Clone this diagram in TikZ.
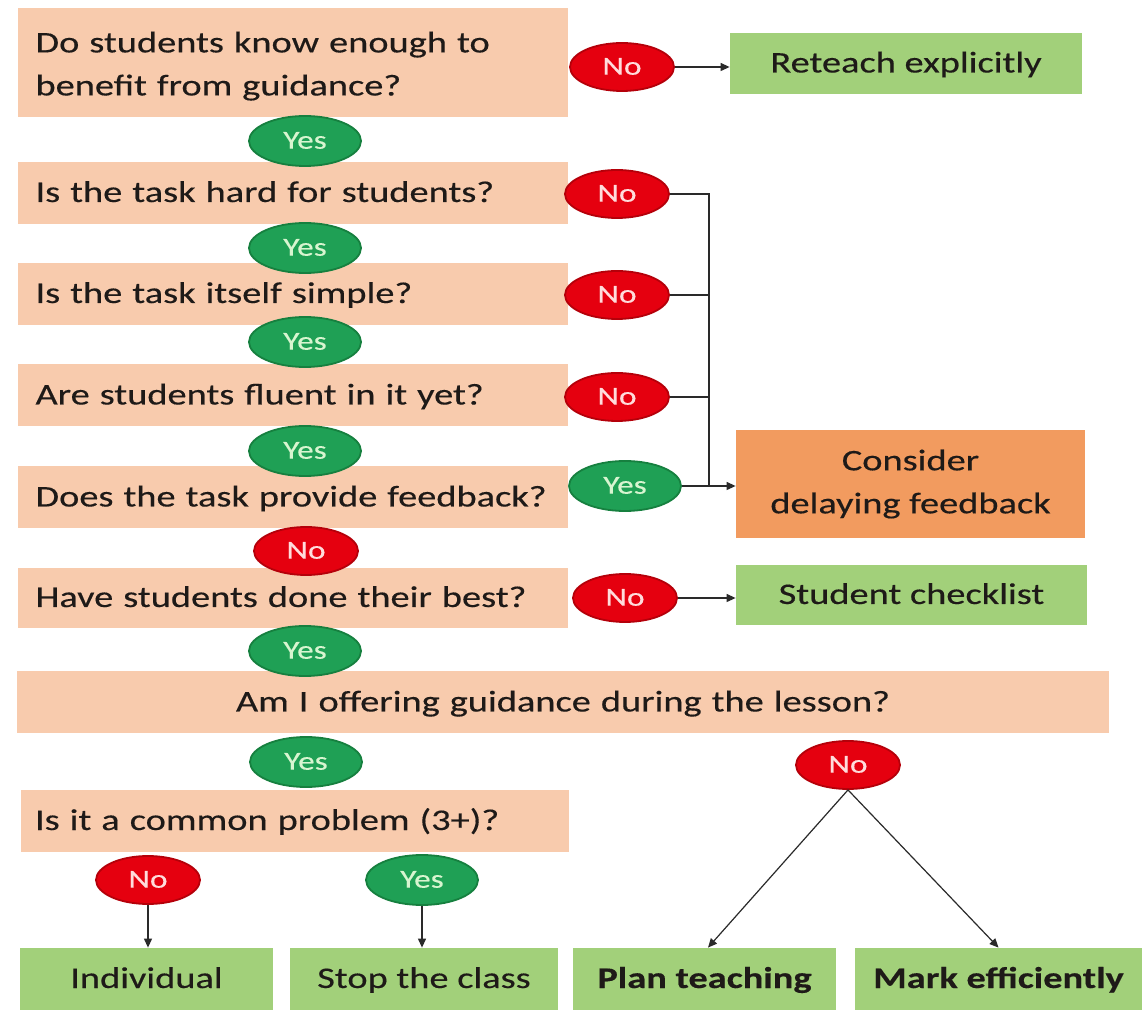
\documentclass[tikz,border=0pt]{standalone}
\usepackage{fontspec}
\setmainfont{Carlito}[FakeStretch=1.28,FakeBold=0.35]
\usetikzlibrary{shapes.geometric,arrows.meta,calc}
\definecolor{peach}{HTML}{F8CBAD}
\definecolor{leaf}{HTML}{A2D07A}
\definecolor{amber}{HTML}{F29B5F}
\definecolor{nored}{HTML}{E5000F}
\definecolor{noedge}{HTML}{B5000A}
\definecolor{yesgreen}{HTML}{1FA055}
\definecolor{yesedge}{HTML}{16803F}
\definecolor{yestext}{HTML}{D8F5D0}
\definecolor{notext}{HTML}{FFDCDC}
\definecolor{ink}{HTML}{1E1A18}
\definecolor{wire}{HTML}{2A2A2A}
\hyphenpenalty=10000
\exhyphenpenalty=10000
\begin{document}
\begin{tikzpicture}[x=0.5pt,y=-0.5pt,
  bodyfont/.style={font=\fontsize{15pt}{21.5pt}\selectfont},
  qbase/.style={bodyfont, fill=peach, inner xsep=9pt, inner ysep=0pt, align=left, text=ink, text width=257pt},
  qone/.style={qbase, text height=12pt, text depth=3pt, minimum height=31pt},
  obase/.style={bodyfont, fill=leaf, inner sep=0pt, align=center, text=ink},
  obox/.style={obase, text height=12pt, text depth=3pt},
  ans/.style={ellipse, inner sep=0pt, minimum width=52pt, minimum height=24pt, line width=0.9pt,
    font=\fontsize{13pt}{14pt}\selectfont, text height=10pt, text depth=2.3pt},
  yesE/.style={ans, fill=yesgreen, draw=yesedge, text=yestext, minimum width=56pt, minimum height=25pt},
  noE/.style={ans, fill=nored, draw=noedge, text=notext},
  link/.style={draw=wire, line width=0.6pt},
  arrowlink/.style={link, -{Triangle[length=4.5pt,width=4pt]}}
]
\useasboundingbox (0,0) rectangle (1142,1010);
\fill[white] (0,0) rectangle (1142,1010);
\clip (0,0) rectangle (1142,1010);

% question boxes
\node[qbase, minimum height=54.5pt, text height=14pt] (q1) at (292.5,62.5) {Do students know enough to\\benefit from guidance?};
\node[qone] (q2) at (292.5,193) {Is the task hard for students?};
\node[qone] (q3) at (292.5,294) {Is the task itself simple?};
\node[qone] (q4) at (292.5,395.5) {Are students fluent in it yet?};
\node[qone] (q5) at (292.5,497.5) {Does the task provide feedback?};
\node[qone, minimum height=30pt] (q6) at (292.5,598) {Have students done their best?};
\node[qone, text width=528pt, align=center] (q7) at (563,702.5) {Am I offering guidance during the lesson?};
\node[qone, inner xsep=7pt, text width=260pt] (q8) at (295,821) {Is it a common problem (3+)?};

% outcome boxes
\node[obox, minimum width=176pt, minimum height=30.5pt] (re) at (906,63.5) {Reteach explicitly};
\node[obase, fill=amber, minimum width=174.5pt, minimum height=54pt] (cd) at (910.5,484) {Consider\\delaying feedback};
\node[obox, minimum width=175.5pt, minimum height=30pt] (sc) at (911.5,595) {Student checklist};
\node[obox, minimum width=126.5pt, minimum height=31pt] (ind) at (146.5,979) {Individual};
\node[obox, minimum width=134pt, minimum height=31pt] (stop) at (424,979) {Stop the class};
\node[obox, minimum width=131.5pt, minimum height=31pt, font=\fontsize{15pt}{19.5pt}\selectfont\bfseries] (plan) at (704.5,979) {Plan teaching};
\node[obox, minimum width=143.5pt, minimum height=31pt, font=\fontsize{15pt}{19.5pt}\selectfont\bfseries] (mark) at (998.5,979) {Mark efficiently};

% answer ellipses
\node[noE] (n1) at (622,67) {No};
\node[yesE] (y1) at (305,141) {Yes};
\node[noE] (n2) at (617,194) {No};
\node[yesE] (y2) at (305,248) {Yes};
\node[noE] (n3) at (617,295) {No};
\node[yesE] (y3) at (305,342) {Yes};
\node[noE] (n4) at (617,397) {No};
\node[yesE] (y4) at (305,451) {Yes};
\node[yesE] (y5) at (625,486) {Yes};
\node[noE] (n5) at (306,551) {No};
\node[noE] (n6) at (625,598) {No};
\node[yesE] (y6) at (305,651) {Yes};
\node[yesE] (y7) at (306,762) {Yes};
\node[noE] (n7) at (848,765) {No};
\node[noE] (n8) at (148,880) {No};
\node[yesE] (y8) at (422,880) {Yes};

% connectors
\coordinate (bus) at (709,486);
\draw[arrowlink] (n1.east) -- (n1.east -| re.west);
\draw[link] (n2.east) -| (bus);
\draw[link] (n3.east) -- (n3.east -| bus);
\draw[link] (n4.east) -- (n4.east -| bus);
\draw[arrowlink] (y5.east) -- (y5.east -| cd.west);
\draw[arrowlink] (n6.east) -- (n6.east -| sc.west);
\draw[arrowlink] (n8.south) -- (n8.south |- ind.north);
\draw[arrowlink] (y8.south) -- (y8.south |- stop.north);
\draw[arrowlink] (n7.south) -- ($(plan.north)+(3.5,0)$);
\draw[arrowlink] (n7.south) -- (mark.north);
\end{tikzpicture}
\end{document}
